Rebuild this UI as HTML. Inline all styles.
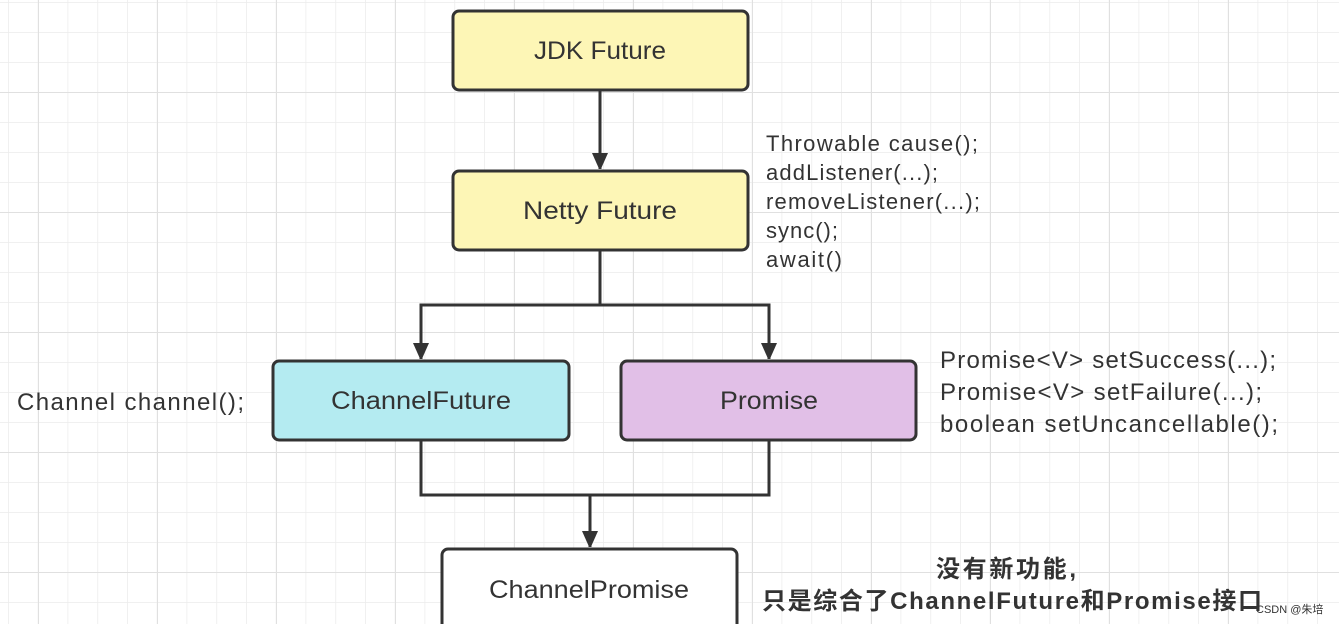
<!DOCTYPE html>
<html><head><meta charset="utf-8"><style>
html,body{margin:0;padding:0;width:1339px;height:624px;overflow:hidden;background:#fff}
svg{display:block}
text{font-family:"Liberation Sans","Noto Sans CJK SC",sans-serif;fill:#333}
</style></head><body>
<svg width="1339" height="624" viewBox="0 0 1339 624" xmlns="http://www.w3.org/2000/svg">
<defs>
<pattern id="minor" x="8" y="2" width="29.75" height="30" patternUnits="userSpaceOnUse">
<path d="M0 0V30M0 0H29.75" stroke="#ececec" stroke-width="1.5" fill="none"/>
</pattern>
<pattern id="major" x="38" y="92" width="119" height="120" patternUnits="userSpaceOnUse">
<path d="M0 0V120M0 0H119" stroke="#e0e0e0" stroke-width="2" fill="none"/>
</pattern>
<marker id="ar" markerWidth="16" markerHeight="18" refX="16" refY="8" orient="auto" markerUnits="userSpaceOnUse">
<path d="M0 0L18 8L0 16z" fill="#333"/>
</marker>
</defs>
<rect width="1339" height="624" fill="url(#minor)"/>
<rect width="1339" height="624" fill="url(#major)"/>
<g stroke="#333" stroke-width="3" fill="none">
<path d="M600 90V169" marker-end="url(#ar)"/>
<path d="M600 250V305H421V359" marker-end="url(#ar)"/>
<path d="M600 305H769V359" marker-end="url(#ar)"/>
<path d="M421 440V495H769V440"/>
<path d="M590 495V547" marker-end="url(#ar)"/>
</g>
<g stroke="#333" stroke-width="3">
<rect x="453" y="11" width="295" height="79" rx="6" fill="#fdf6b6"/>
<rect x="453" y="171" width="295" height="79" rx="6" fill="#fdf6b6"/>
<rect x="273" y="361" width="296" height="79" rx="6" fill="#b4ebf1"/>
<rect x="621" y="361" width="295" height="79" rx="6" fill="#e1bfe7"/>
<rect x="442" y="549" width="295" height="90" rx="6" fill="#fff"/>
</g>
<g font-size="25" text-anchor="middle">
<text x="600" y="59" textLength="132" lengthAdjust="spacingAndGlyphs">JDK Future</text>
<text x="600" y="219" textLength="154" lengthAdjust="spacingAndGlyphs">Netty Future</text>
<text x="421" y="409" textLength="180" lengthAdjust="spacingAndGlyphs">ChannelFuture</text>
<text x="769" y="409" textLength="98" lengthAdjust="spacingAndGlyphs">Promise</text>
<text x="589" y="598" textLength="200" lengthAdjust="spacingAndGlyphs">ChannelPromise</text>
</g>
<g font-size="22" lengthAdjust="spacingAndGlyphs">
<text x="766" y="151" textLength="212">Throwable cause();</text>
<text x="766" y="180" textLength="172">addListener(...);</text>
<text x="766" y="209" textLength="214">removeListener(...);</text>
<text x="766" y="238" textLength="72">sync();</text>
<text x="766" y="267" textLength="76">await()</text>
<text x="17" y="410" font-size="24" textLength="227">Channel channel();</text>
<text x="940" y="368" font-size="24" textLength="336">Promise&lt;V&gt; setSuccess(...);</text>
<text x="940" y="400" font-size="24" textLength="322">Promise&lt;V&gt; setFailure(...);</text>
<text x="940" y="432" font-size="24" textLength="338">boolean setUncancellable();</text>
</g>
<g font-size="24" font-weight="bold" lengthAdjust="spacingAndGlyphs">
<text x="936" y="577" textLength="140">没有新功能,</text>
<text x="762" y="609" textLength="500">只是综合了ChannelFuture和Promise接口</text>
</g>
<text x="1256" y="613" font-size="11" fill="#888">CSDN @朱培</text>
</svg>
</body></html>
